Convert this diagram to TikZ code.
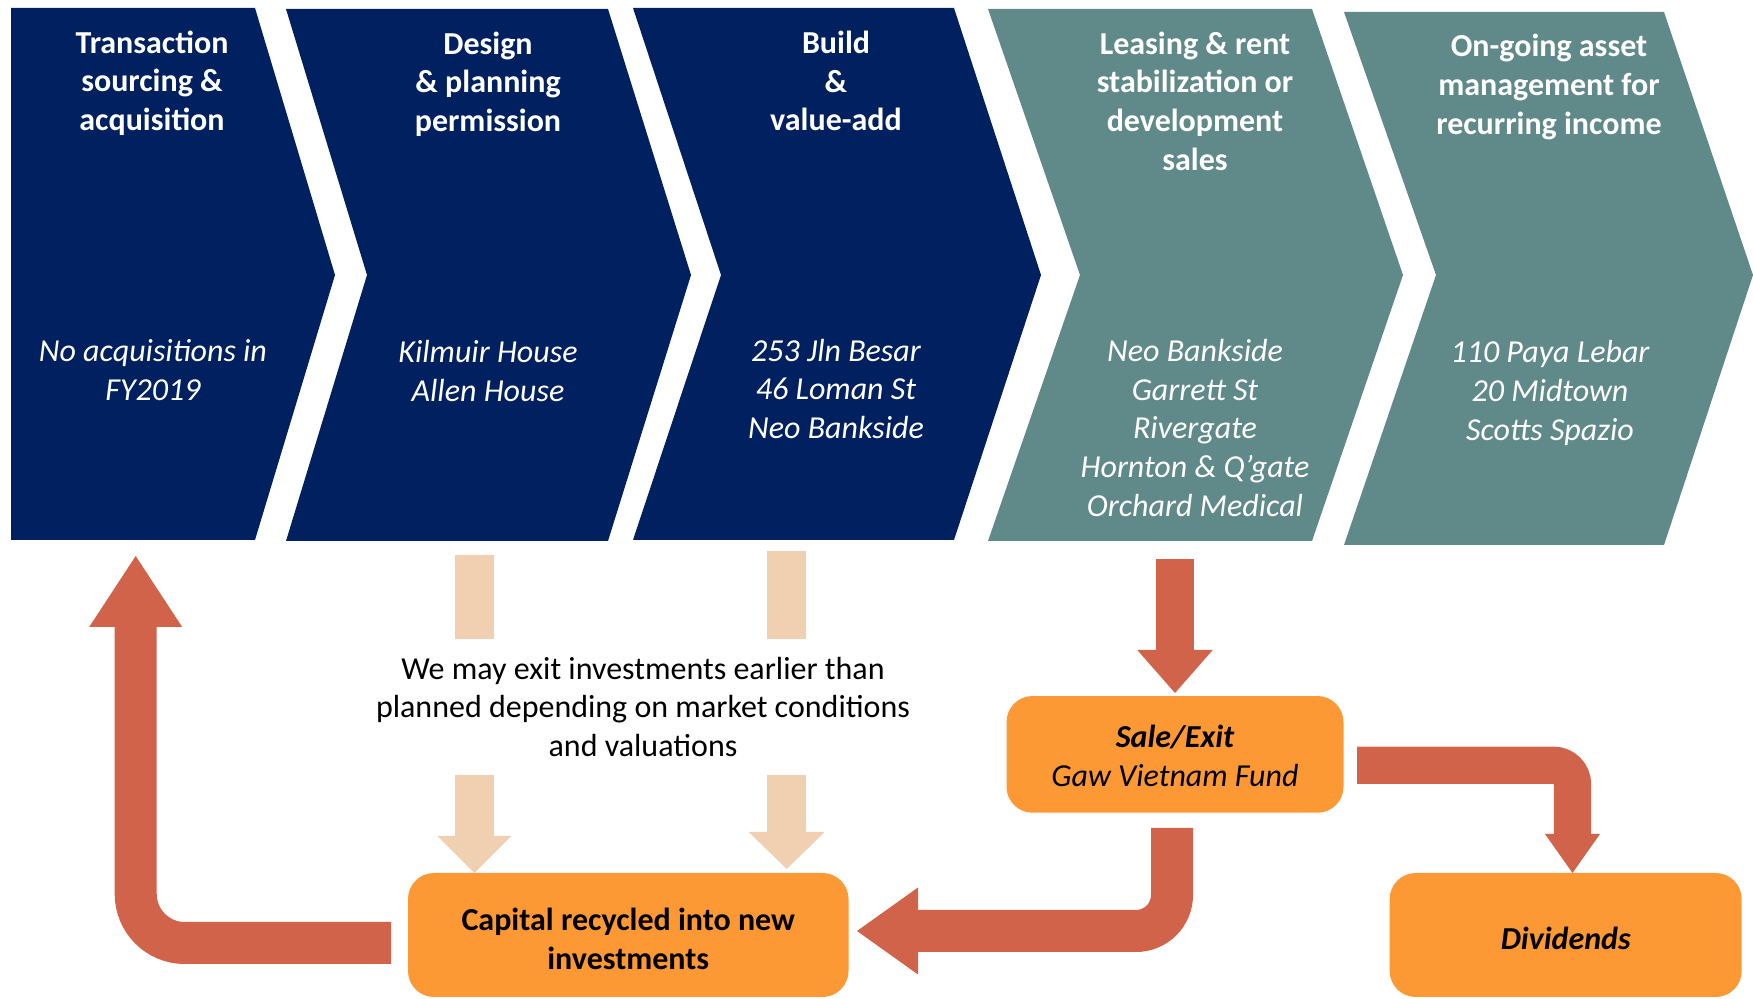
\documentclass[tikz,border=0pt]{standalone}
\usepackage{fontspec}
\setmainfont{Carlito}
\usetikzlibrary{arrows.meta}
\definecolor{stagenavy}{RGB}{0,32,96}
\definecolor{stageteal}{RGB}{96,138,137}
\definecolor{flowrust}{RGB}{209,99,74}
\definecolor{boxorange}{RGB}{253,153,52}
\definecolor{hintpeach}{RGB}{240,208,176}
\begin{document}
\begin{tikzpicture}[x=0.5pt,y=-0.5pt,
  txt/.style={font=\fontsize{16}{19.3}\selectfont, align=center, inner sep=0pt},
  head/.style={txt, text=white, font=\fontsize{16}{19.3}\selectfont\bfseries},
  items/.style={txt, text=white, font=\fontsize{16}{19.3}\selectfont\itshape},
  box/.style={fill=boxorange, rounded corners=13pt, inner sep=0pt},
  flow/.style={draw=flowrust},
  hint/.style={draw=hintpeach, line width=19.35pt},
]
\useasboundingbox (0,0) rectangle (1753,999);

% process chevrons
\fill[stagenavy] (11,8) -- (255,8) -- (335,275) -- (255,540) -- (11,540) -- cycle;
\fill[stagenavy] (286,9) -- (608,9) -- (691,275) -- (608,541) -- (286,541) -- (367,275) -- cycle;
\fill[stagenavy] (633,8) -- (954,8) -- (1041,275) -- (954,540) -- (633,540) -- (721,275) -- cycle;
\fill[stageteal] (988,9) -- (1312,9) -- (1403,275) -- (1312,541) -- (988,541) -- (1080,275) -- cycle;
\fill[stageteal] (1344,12) -- (1664,12) -- (1753,275) -- (1664,545) -- (1344,545) -- (1436,275) -- cycle;

% stage titles
\node[head] (h1) at (152,83) {Transaction\\sourcing \&\\acquisition};
\node[head] (h2) at (488,84) {Design\\\& planning\\permission};
\node[head] (h3) at (836,81) {Build\\\&\\value-add};
\node[head] (h4) at (1195,101) {Leasing \& rent\\stabilization or\\development\\sales};
\node[head] (h5) at (1549,87) {On-going asset\\management for\\recurring income};

% assets per stage
\node[items] (a1) at (153,370) {No acquisitions in\\FY2019};
\node[items] (a2) at (488,371) {Kilmuir House\\Allen House};
\node[items] (a3) at (836,389) {253 Jln Besar\\46 Loman St\\Neo Bankside};
\node[items] (a4) at (1195,428) {Neo Bankside\\Garrett St\\Rivergate\\Hornton \& Q’gate\\Orchard Medical};
\node[items] (a5) at (1550,393) {110 Paya Lebar\\20 Midtown\\Scotts Spazio};

% outcome boxes
\node[box, minimum width=220.25pt, minimum height=62pt] (cap) at (628.25,935) {};
\node[box, minimum width=168.5pt, minimum height=58.35pt] (sale) at (1175,754.4) {};
\node[box, minimum width=176pt, minimum height=62pt] (div) at (1565.7,935) {};
\node[txt, font=\fontsize{16}{19.3}\selectfont\bfseries] (capt) at (628.25,939)
  {Capital recycled into new\\investments};
\node[txt, font=\fontsize{16}{19.3}\selectfont\itshape] (salet) at (1175,756)
  {\bfseries Sale/Exit\\Gaw Vietnam Fund};
\node[txt, font=\fontsize{16}{19.3}\selectfont\bfseries\itshape] (divt) at (1565.7,938)
  {Dividends};

% early exit note
\node[txt] (note) at (643,707) {We may exit investments earlier than\\planned depending on market conditions\\and valuations};

% anchor points of the block arrows
\coordinate (l0) at (391,943);
\coordinate (l1) at (135.7,943);
\coordinate (l2) at (135.7,556);
\coordinate (s0) at (1175,559);
\coordinate (s1) at (1175,693);
\coordinate (e0) at (1172,828);
\coordinate (e1) at (1172,931);
\coordinate (e2) at (857,931);
\coordinate (d0) at (1357,765.3);
\coordinate (d1) at (1572.5,765.3);
\coordinate (d2) at (1572.5,873);
\coordinate (p0) at (474.3,555);
\coordinate (p1) at (474.3,639);
\coordinate (p2) at (474.3,775);
\coordinate (p3) at (474.3,873);
\coordinate (q0) at (786.7,551);
\coordinate (q1) at (786.7,639);
\coordinate (q2) at (786.7,775);
\coordinate (q3) at (786.7,869);

% recycling loop back to acquisition
\draw[flow, line width=21pt, rounded corners=24.5pt,
  -{Triangle[length=35.5pt,width=46.5pt,line width=0pt]}] (l0) -- (l1) -- (l2);
% leasing to sale
\draw[flow, line width=19pt,
  -{Triangle[length=21.5pt,width=37.7pt,line width=0pt]}] (s0) -- (s1);
% sale proceeds to recycling
\draw[flow, line width=21pt, rounded corners=18pt,
  -{Triangle[length=30.5pt,width=43.5pt,line width=0pt]}] (e0) -- (e1) -- (e2);
% sale proceeds to dividends
\draw[flow, line width=18.65pt, rounded corners=9.5pt,
  -{Triangle[length=19.5pt,width=27.5pt,line width=0pt]}] (d0) -- (d1) -- (d2);

% early exit hints
\draw[hint] (p0) -- (p1);
\draw[hint] (q0) -- (q1);
\draw[hint, -{Triangle[length=18.5pt,width=37pt,line width=0pt]}] (p2) -- (p3);
\draw[hint, -{Triangle[length=18.5pt,width=38pt,line width=0pt]}] (q2) -- (q3);
\end{tikzpicture}
\end{document}
